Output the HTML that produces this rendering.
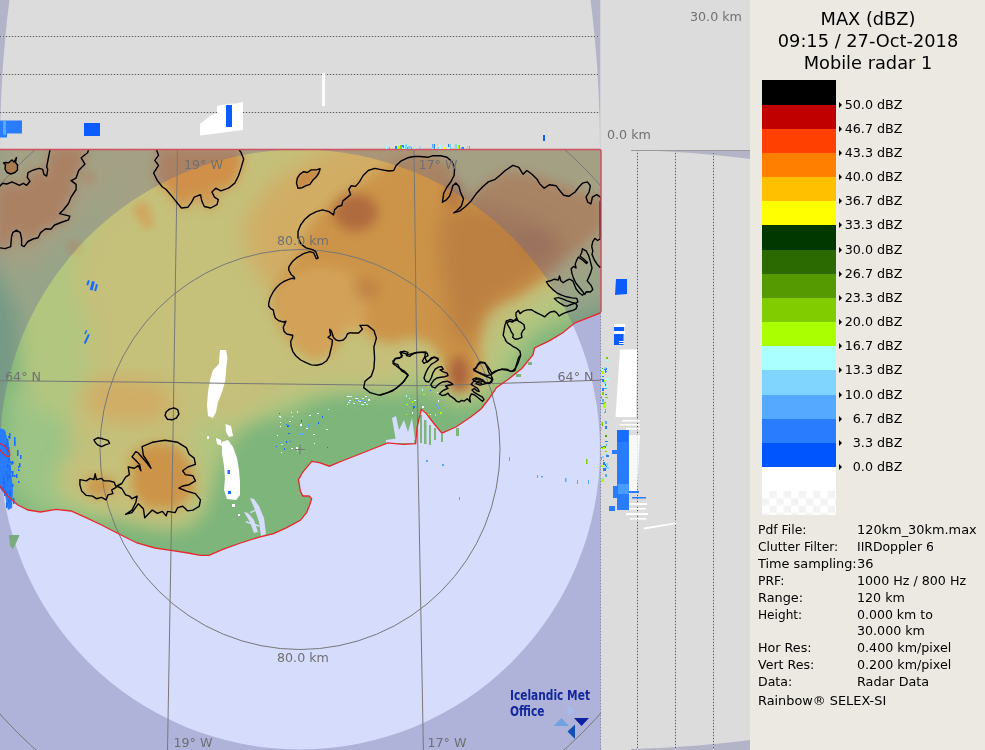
<!DOCTYPE html>
<html><head><meta charset="utf-8"><title>MAX (dBZ)</title>
<style>
html,body{margin:0;padding:0;background:#dcdcdc;}
body{width:985px;height:750px;overflow:hidden;position:relative;font-family:"DejaVu Sans","Liberation Sans",sans-serif;}
svg{position:absolute;left:0;top:0;display:block}
text{font-family:"DejaVu Sans","Liberation Sans",sans-serif}
.g{fill:#707070;font-size:13px}
.l{fill:#000;font-size:13px}
.t{fill:#000;font-size:17.8px;text-anchor:middle}
.i{fill:#000;font-size:13px}
</style></head><body>
<svg width="985" height="750" viewBox="0 0 985 750">
<defs>
<clipPath id="mapclip"><rect x="0" y="149.5" width="601" height="601"/></clipPath>
<clipPath id="landclip"><polygon points="-5,480 0,486 7.6,496 17.8,505 28,510 40.6,512 56,509.3 71,511 86,517.7 101.5,525 119,534 137,543 155,548 172.6,550.7 188,553 200.5,555.3 209,555.3 222.8,549.4 240.6,543 258.4,537.3 273.6,533.7 286.3,527.9 300.3,520.3 306.6,512.6 309.6,505 311.7,498.7 309,496 302.8,496 300.3,491 298.5,479.6 302.8,472 311.7,461.4 319.3,462.6 329.4,466.2 342,461 357.4,455 375,448 387.8,442.8 403,444.4 415.7,443.6 417,427.6 419,419 421.2,409.3 425.9,413 433.5,423 441.9,433.2 455.8,427 471,416.8 481,409 488.8,399 496.4,387.6 509,378.7 521.8,368.5 533,354.6 534.5,348 549.7,340.6 562.4,333 575,322.8 587.8,317.8 601,312.7 601,312.7 601,149.5 -5,149.5"/></clipPath>
<clipPath id="topclip"><rect x="0" y="0" width="600.3" height="149"/></clipPath>
<clipPath id="rclip"><rect x="631" y="150" width="119" height="600"/></clipPath>
<filter id="b12" x="-20%" y="-20%" width="140%" height="140%"><feGaussianBlur stdDeviation="10"/></filter>
<filter id="b6" x="-30%" y="-30%" width="160%" height="160%"><feGaussianBlur stdDeviation="6"/></filter>
<filter id="b2" x="-30%" y="-30%" width="160%" height="160%"><feGaussianBlur stdDeviation="1.5"/></filter>
<filter id="b4" x="-30%" y="-30%" width="160%" height="160%"><feGaussianBlur stdDeviation="4"/></filter>
<pattern id="chk" x="762" y="491" width="14.6" height="14.6" patternUnits="userSpaceOnUse"><rect width="14.6" height="14.6" fill="#fff"/><rect x="7.3" y="0" width="7.3" height="7.3" fill="#f3f3f3"/><rect x="0" y="7.3" width="7.3" height="7.3" fill="#f3f3f3"/></pattern>
</defs>

<rect x="0" y="0" width="985" height="750" fill="#dcdcdc"/>
<g clip-path="url(#topclip)"><path d="M-10,-10H611V160H-10Z M0,149.5A300,600 0 0 1 600,149.5Z" fill="#b4b4c8" fill-rule="evenodd"/></g>
<g clip-path="url(#rclip)"><path d="M620,140H760V760H620Z M600,149.5A600,300 0 0 1 600,749.5Z" fill="#b4b4c8" fill-rule="evenodd"/></g>
<line x1="0" y1="36.5" x2="600" y2="36.5" stroke="#c4c4c4" stroke-width="1"/><line x1="0" y1="36.5" x2="600" y2="36.5" stroke="#5a5a5a" stroke-width="1" stroke-dasharray="1,2"/>
<line x1="0" y1="74.5" x2="600" y2="74.5" stroke="#c4c4c4" stroke-width="1"/><line x1="0" y1="74.5" x2="600" y2="74.5" stroke="#5a5a5a" stroke-width="1" stroke-dasharray="1,2"/>
<line x1="0" y1="112.5" x2="600" y2="112.5" stroke="#c4c4c4" stroke-width="1"/><line x1="0" y1="112.5" x2="600" y2="112.5" stroke="#5a5a5a" stroke-width="1" stroke-dasharray="1,2"/>
<line x1="637.5" y1="150" x2="637.5" y2="750" stroke="#c4c4c4" stroke-width="1"/><line x1="637.5" y1="150" x2="637.5" y2="750" stroke="#5a5a5a" stroke-width="1" stroke-dasharray="1,2"/>
<line x1="675.5" y1="150" x2="675.5" y2="750" stroke="#c4c4c4" stroke-width="1"/><line x1="675.5" y1="150" x2="675.5" y2="750" stroke="#5a5a5a" stroke-width="1" stroke-dasharray="1,2"/>
<line x1="713.5" y1="150" x2="713.5" y2="750" stroke="#c4c4c4" stroke-width="1"/><line x1="713.5" y1="150" x2="713.5" y2="750" stroke="#5a5a5a" stroke-width="1" stroke-dasharray="1,2"/>
<line x1="631" y1="150.5" x2="750" y2="150.5" stroke="#999" stroke-width="1"/>
<g clip-path="url(#mapclip)">
<rect x="0" y="149" width="601" height="601" fill="#d6dcfb"/>
<g clip-path="url(#landclip)">
<rect x="0" y="149" width="601" height="420" fill="#7db57b"/>
<polygon points="6.1,386.9 103.7,386.9 103.7,515.1 36.6,515.1 6.1,478.5" fill="#9cc486" filter="url(#b12)"/>
<polygon points="0.0,136.8 610.1,136.8 610.1,304.6 573.5,316.8 549.1,325.9 530.8,338.1 518.6,356.4 509.5,374.7 497.3,390.0 482.0,399.2 463.7,405.3 448.4,402.2 436.2,390.0 421.0,386.9 402.7,393.1 384.4,393.1 366.1,390.0 347.8,393.1 329.5,393.1 311.2,399.2 292.9,411.4 274.6,417.5 256.3,420.5 244.1,426.6 233.1,438.8 224.5,457.1 214.8,478.5 207.4,502.9 196.5,521.2 176.9,527.3 152.5,521.2 128.1,515.1 103.7,512.0 79.3,505.9 61.0,496.8 51.9,481.5 64.1,466.3 82.4,454.1 91.5,438.8 79.3,423.6 54.9,417.5 30.5,405.3 21.4,380.8 18.3,350.3 18.3,319.8 12.2,301.5 0.0,286.3" fill="#b2c680" filter="url(#b12)"/>
<polygon points="122.0,136.8 610.1,136.8 610.1,258.8 573.5,280.2 543.0,298.5 518.6,313.7 497.3,332.0 488.1,356.4 485.1,377.8 475.9,391.8 460.6,396.1 445.4,386.9 436.2,371.7 421.0,362.5 402.7,374.7 384.4,383.9 366.1,383.9 347.8,383.9 329.5,383.9 305.1,390.0 280.7,393.1 262.4,405.3 244.1,417.5 225.7,423.6 207.4,417.5 189.1,411.4 170.8,423.6 146.4,429.7 122.0,426.6 97.6,417.5 85.4,399.2 91.5,374.7 85.4,350.3 91.5,325.9 79.3,301.5 73.2,271.0 91.5,228.3 122.0,185.6" fill="#c5c07a" filter="url(#b12)"/>
<polygon points="61.0,472.4 73.2,448.0 97.6,432.7 122.0,426.6 152.5,423.6 176.9,430.9 196.5,454.1 201.3,484.6 196.5,509.0 180.0,524.2 152.5,526.1 122.0,518.1 91.5,509.0 67.1,496.8" fill="#c5c07a" filter="url(#b12)"/>
<polygon points="-6.1,142.9 158.6,142.9 122.0,185.6 73.2,228.3 36.6,264.9 -6.1,271.0" fill="#c5c07a" filter="url(#b12)"/>
<polygon points="76.3,393.1 201.3,393.1 196.5,438.8 67.1,444.9" fill="#c5c07a" filter="url(#b12)"/>
<polygon points="85.4,383.9 122.0,377.8 158.6,383.9 176.9,399.2 164.7,417.5 134.2,423.6 103.7,420.5 85.4,405.3" fill="#d4a860" filter="url(#b12)" opacity="0.8"/>
<polygon points="244.1,222.2 268.5,185.6 305.1,161.2 341.7,142.9 427.1,142.9 427.1,173.4 378.3,185.6 341.7,216.1 317.3,246.6 292.9,283.2 268.5,289.3 250.2,258.8" fill="#d4a860" filter="url(#b12)" opacity="0.8"/>
<polygon points="271.5,301.5 277.6,280.2 292.9,264.9 302.0,240.5 317.3,216.1 335.6,200.9 356.9,185.6 378.3,170.4 402.7,158.2 427.1,155.1 451.5,164.3 457.6,191.7 463.7,203.9 482.0,185.6 506.4,170.4 530.8,173.4 555.2,182.6 579.6,191.7 604.0,200.9 604.0,225.3 585.7,243.6 564.4,258.8 543.0,278.3 518.6,295.4 494.2,304.6 482.0,319.8 479.0,344.2 482.0,362.5 479.0,383.9 469.8,390.0 454.5,386.9 445.4,371.7 439.3,353.4 427.1,341.2 408.8,338.1 390.5,344.2 372.2,338.1 360.0,325.9 344.7,329.0 332.5,350.3 314.2,359.5 295.9,347.3 280.7,325.9" fill="#cc9448" filter="url(#b6)"/>
<polygon points="131.2,454.1 152.5,441.9 176.9,444.9 192.2,466.3 195.2,490.7 176.9,509.0 146.4,509.0 131.2,490.7" fill="#cc9448" filter="url(#b6)"/>
<polygon points="82.4,481.5 100.7,475.4 115.9,481.5 112.9,493.7 91.5,496.8" fill="#cc9448" filter="url(#b6)"/>
<polygon points="88.8,147.6 88.8,148.9 87.6,152.7 81.2,157.8 85.0,164.1 78.7,170.5 76.1,178.1 71.1,180.6 76.1,184.4 76.1,189.5 71.1,197.1 68.5,203.5 63.5,209.8 59.6,213.6 69.8,216.1 68.5,219.9 60.9,222.5 54.6,225.0 50.8,229.3 45.7,228.8 40.6,232.6 38.1,237.7 33.0,239.0 27.9,241.5 24.1,246.6 21.6,245.3 21.6,239.0 20.3,232.6 16.5,230.1 12.7,232.6 11.4,237.7 10.7,246.6 5.1,248.6 0.0,247.9 -5.1,247.9 -5,186 0,186 2.7,183.3 6.7,184 12,182 15.3,183.3 19.3,185.3 23.3,183.3 26.7,185.3 30,181.3 27.3,177.3 28,172.7 33.3,170 39.3,168.3 42.7,169.3 44,174.7 46.7,176 47.7,169.3 46.7,166.7 48,160 49.3,153.3 50,150 50,147" fill="#d0904a" filter="url(#b6)"/>
<polygon points="156.1,147.6 156.1,148.9 158.6,155.2 154.8,160.3 158.6,165.4 153.6,173.0 157.4,180.6 162.4,187.0 166.2,189.5 172.6,197.1 177.7,203.5 181.5,208.0 187.8,207.3 191.6,202.2 194.2,197.1 200.5,194.6 201.8,200.9 204.3,206.5 210.7,208.0 217.0,204.7 218.3,199.6 214.5,197.1 211.9,192.0 215.7,188.2 220.8,190.8 228.4,188.2 234.8,183.1 238.6,175.5 241.1,167.9 243.7,159.0 241.1,152.7 238.6,148.9 238.6,147.6" fill="#d0904a" filter="url(#b6)"/>
<polygon points="297.3,178.1 299.8,174.3 303.6,171.7 307.4,172.5 311.2,169.9 316.3,169.9 320.1,168.7 318.8,173.0 316.3,176.8 312.5,180.6 309.9,184.4 306.1,185.7 302.3,187.7 298.0,188.2 296.5,183.1" fill="#c88c48" filter="url(#b2)"/>
<circle cx="88.8" cy="178" r="6" fill="#d8964e" filter="url(#b4)" opacity="0.7"/>
<circle cx="73.6" cy="246.6" r="6" fill="#d8964e" filter="url(#b4)" opacity="0.7"/>
<circle cx="142" cy="211" r="8" fill="#d8964e" filter="url(#b4)" opacity="0.7"/>
<circle cx="147" cy="222" r="6" fill="#d8964e" filter="url(#b4)" opacity="0.7"/>
<polygon points="274.6,301.5 286.8,277.1 317.3,264.9 347.8,271.0 366.1,295.4 366.1,332.0 341.7,332.0 329.5,353.4 308.1,356.4 289.8,338.1" fill="#dcb46c" filter="url(#b6)" opacity="0.45"/>
<polygon points="439.3,216.1 463.7,203.9 500.3,210.0 536.9,222.2 561.3,240.5 561.3,258.8 536.9,277.1 512.5,292.4 488.1,307.6 475.9,332.0 463.7,350.3 451.5,332.0 445.4,295.4 439.3,258.8" fill="#b87c40" filter="url(#b12)" opacity="0.8"/>
<ellipse cx="355.7" cy="212.5" rx="22.0" ry="18.3" fill="#a8603a" filter="url(#b6)" opacity="0.8"/>
<ellipse cx="458.8" cy="374.1" rx="9.2" ry="18.3" fill="#a8603a" filter="url(#b6)" opacity="1.0"/>
<ellipse cx="454.5" cy="194.8" rx="11.0" ry="13.4" fill="#a8603a" filter="url(#b6)" opacity="0.5"/>
<ellipse cx="366.1" cy="289.3" rx="13.4" ry="11.0" fill="#a8603a" filter="url(#b6)" opacity="0.3"/>
<ellipse cx="535.7" cy="243.0" rx="18.3" ry="12.2" fill="#a8603a" filter="url(#b6)" opacity="0.2"/>
</g>
<path d="M-10,140H611V760H-10Z M0,449.5A300,300 0 1 0 600,449.5A300,300 0 1 0 0,449.5Z" fill="#646498" fill-opacity="0.34" fill-rule="evenodd"/>
<g fill="#fff">
<polygon points="220,350 226,350 227.5,358 226.5,366 226,372 225,382 222,392 218,402 216,412 213,418 208,416 207,405 208,392 210,380 213,370 219,364 219.5,356"/>
<polygon points="225.5,424 231,426 233,436 229,437 226,432"/><polygon points="216,438 221,440 222,446 217,444"/>
<polygon points="222,442 228,440 233,447 237,458 239,470 240,482 240,495 236,500 227,499 224,490 225,478 224,466 222,454"/>
<rect x="232" y="504" width="3" height="3"/><rect x="238" y="514" width="2" height="2"/><rect x="207" y="436" width="2" height="3"/>
</g>
<polygon points="0,428 5,430 9,445 11,470 13,490 12,508 8,510 5,495 0,488" fill="#2a7cff"/>
<g fill="#1a6cff"><rect x="6" y="471" width="1.5" height="4"/><rect x="18" y="466" width="1.5" height="2"/><rect x="13" y="498" width="1.5" height="6"/><rect x="7" y="448" width="1.5" height="6"/><rect x="12" y="471" width="1.5" height="6"/><rect x="14" y="441" width="1.5" height="3"/><rect x="18" y="469" width="1.5" height="2"/><rect x="16" y="474" width="1.5" height="4"/><rect x="7" y="475" width="1.5" height="6"/><rect x="9" y="490" width="1.5" height="6"/><rect x="9" y="433" width="1.5" height="6"/><rect x="6" y="502" width="1.5" height="6"/><rect x="10" y="493" width="1.5" height="4"/><rect x="12" y="461" width="1.5" height="3"/><rect x="18" y="481" width="1.5" height="2"/><rect x="14" y="442" width="1.5" height="4"/><rect x="12" y="484" width="1.5" height="3"/><rect x="7" y="439" width="1.5" height="6"/><rect x="4" y="490" width="1.5" height="6"/><rect x="10" y="461" width="1.5" height="2"/><rect x="3" y="476" width="1.5" height="2"/><rect x="9" y="474" width="1.5" height="4"/><rect x="8" y="436" width="1.5" height="2"/><rect x="7" y="450" width="1.5" height="2"/><rect x="20" y="455" width="1.5" height="4"/><rect x="9" y="465" width="1.5" height="6"/><rect x="14" y="475" width="1.5" height="2"/><rect x="11" y="462" width="1.5" height="3"/><rect x="19" y="463" width="1.5" height="4"/><rect x="11" y="471" width="1.5" height="2"/><rect x="8" y="458" width="1.5" height="3"/><rect x="3" y="477" width="1.5" height="6"/><rect x="8" y="499" width="1.5" height="4"/><rect x="3" y="481" width="1.5" height="4"/><rect x="7" y="464" width="1.5" height="4"/><rect x="5" y="444" width="1.5" height="4"/><rect x="17" y="450" width="1.5" height="6"/><rect x="4" y="491" width="1.5" height="3"/><rect x="8" y="447" width="1.5" height="4"/><rect x="6" y="444" width="1.5" height="6"/><rect x="14" y="437" width="1.5" height="4"/><rect x="6" y="491" width="1.5" height="3"/><rect x="3" y="486" width="1.5" height="3"/></g>
<polygon points="9,535 19.5,535 17,541 13,549 10,546" fill="#78ab7e"/>
<ellipse cx="4" cy="450" rx="8" ry="3.2" transform="rotate(48 4 450)" fill="none" stroke="#e8282c" stroke-width="1.2"/>
<g fill="#d6dcfb"><polygon points="392,418 396,416 399,430 404,420 408,432 412,418 415,440 404,442 396,441"/><polygon points="386,440 400,438 414,440 414,443 386,443"/></g>
<g fill="#7db57b"><rect x="420" y="415" width="2" height="28"/><rect x="424" y="420" width="2.5" height="24"/><rect x="429" y="425" width="2" height="20"/><rect x="434" y="428" width="2" height="12"/><rect x="441" y="434" width="2" height="8"/><rect x="456" y="428" width="3" height="8"/><rect x="516" y="374" width="5" height="3"/><rect x="528" y="362" width="4" height="3"/></g>
<g fill="#1a6cff"><rect x="88" y="280" width="2" height="5" transform="rotate(20 88 280)"/><rect x="92" y="281" width="3" height="9" transform="rotate(15 92 281)"/><rect x="96" y="284" width="2" height="7" transform="rotate(15 96 284)"/><rect x="86" y="330" width="1.5" height="4" transform="rotate(25 86 330)"/><rect x="88" y="334" width="2" height="10" transform="rotate(25 88 334)"/><rect x="227.5" y="470" width="2.5" height="4"/><rect x="228" y="491" width="3" height="3"/></g>
<g fill="#d6dcfb"><polygon points="250,498 254,499 259,506 264,518 266,534 261,536 259,522 255,510"/><polygon points="244,512 248,513 254,520 258,532 254,533 250,522"/><rect x="246" y="521" width="14" height="1.5" transform="rotate(18 246 521)"/><rect x="250" y="512" width="8" height="1.5" transform="rotate(-25 250 512)"/></g>
<rect x="300" y="433" width="1" height="2" fill="#55aaff"/><rect x="322" y="416" width="1" height="2" fill="#1a6cff"/><rect x="309" y="416" width="1" height="1" fill="#55aaff"/><rect x="281" y="444" width="2" height="1" fill="#aaffff"/><rect x="308" y="425" width="2" height="2" fill="#55aaff"/><rect x="309" y="415" width="2" height="1" fill="#fff"/><rect x="279" y="416" width="2" height="1" fill="#fff"/><rect x="318" y="422" width="1" height="2" fill="#1a6cff"/><rect x="289" y="421" width="2" height="1" fill="#fff"/><rect x="301" y="420" width="1" height="2" fill="#1a6cff"/><rect x="290" y="441" width="1" height="1" fill="#1a6cff"/><rect x="280" y="442" width="1" height="1" fill="#55aaff"/><rect x="297" y="450" width="1" height="1" fill="#aaffff"/><rect x="287" y="448" width="1" height="2" fill="#55aaff"/><rect x="297" y="411" width="1" height="2" fill="#aaffff"/><rect x="291" y="412" width="1" height="1" fill="#fff"/><rect x="317" y="413" width="2" height="1" fill="#fff"/><rect x="277" y="428" width="1" height="2" fill="#55aaff"/><rect x="306" y="428" width="2" height="1" fill="#fff"/><rect x="299" y="425" width="1" height="1" fill="#55aaff"/><rect x="276" y="446" width="1" height="1" fill="#1a6cff"/><rect x="287" y="425" width="2" height="2" fill="#1a6cff"/><rect x="281" y="452" width="1" height="1" fill="#fff"/><rect x="277" y="435" width="1" height="1" fill="#fff"/><rect x="280" y="417" width="1" height="1" fill="#aaffff"/><rect x="308" y="424" width="1" height="2" fill="#55aaff"/><rect x="302" y="433" width="1" height="2" fill="#55aaff"/><rect x="284" y="448" width="1" height="2" fill="#1a6cff"/><rect x="286" y="441" width="1" height="2" fill="#1a6cff"/><rect x="327" y="447" width="1" height="1" fill="#1a6cff"/><rect x="279" y="413" width="1" height="1" fill="#1a6cff"/><rect x="316" y="425" width="2" height="1" fill="#55aaff"/><rect x="292" y="416" width="1" height="1" fill="#aaffff"/><rect x="288" y="433" width="2" height="1" fill="#1a6cff"/><rect x="291" y="448" width="2" height="1" fill="#fff"/><rect x="280" y="426" width="1" height="1" fill="#fff"/><rect x="286" y="424" width="1" height="1" fill="#1a6cff"/><rect x="296" y="447" width="2" height="2" fill="#fff"/><rect x="313" y="434" width="2" height="1" fill="#fff"/><rect x="326" y="429" width="2" height="1" fill="#fff"/><rect x="328" y="409" width="1" height="1" fill="#aaffff"/><rect x="280" y="422" width="1" height="1" fill="#fff"/><rect x="300" y="424" width="2" height="2" fill="#fff"/><rect x="314" y="443" width="1" height="1" fill="#fff"/><rect x="313" y="448" width="1" height="1" fill="#55aaff"/><rect x="359" y="401" width="2" height="1" fill="#aaffff"/><rect x="360" y="401" width="1" height="1" fill="#fff"/><rect x="361" y="404" width="3" height="1" fill="#aaffff"/><rect x="353" y="403" width="2" height="1" fill="#aaffff"/><rect x="357" y="400" width="2" height="1" fill="#fff"/><rect x="360" y="400" width="3" height="1" fill="#fff"/><rect x="348" y="402" width="2" height="1" fill="#aaffff"/><rect x="367" y="399" width="3" height="1" fill="#fff"/><rect x="360" y="400" width="3" height="1" fill="#55aaff"/><rect x="368" y="400" width="2" height="1" fill="#fff"/><rect x="355" y="398" width="1" height="1" fill="#aaffff"/><rect x="367" y="399" width="1" height="1" fill="#55aaff"/><rect x="348" y="400" width="3" height="1" fill="#fff"/><rect x="347" y="404" width="1" height="1" fill="#fff"/><rect x="356" y="398" width="2" height="1" fill="#fff"/><rect x="355" y="400" width="3" height="1" fill="#55aaff"/><rect x="366" y="404" width="2" height="1" fill="#aaffff"/><rect x="347" y="396" width="3" height="1" fill="#fff"/><rect x="363" y="401" width="3" height="1" fill="#55aaff"/><rect x="365" y="396" width="2" height="1" fill="#fff"/><rect x="356" y="396" width="1" height="1" fill="#55aaff"/><rect x="364" y="402" width="2" height="1" fill="#fff"/><rect x="348" y="400" width="1" height="1" fill="#55aaff"/><rect x="362" y="398" width="2" height="1" fill="#aaffff"/><rect x="349" y="396" width="3" height="1" fill="#aaffff"/><rect x="430" y="390" width="1" height="1" fill="#1a6cff"/><rect x="419" y="409" width="1" height="2" fill="#55aaff"/><rect x="438" y="407" width="1" height="2" fill="#55aaff"/><rect x="412" y="412" width="1" height="2" fill="#fff"/><rect x="421" y="405" width="1" height="1" fill="#55aaff"/><rect x="412" y="412" width="1" height="2" fill="#fff"/><rect x="414" y="407" width="1" height="1" fill="#fff"/><rect x="406" y="395" width="1" height="2" fill="#aaffff"/><rect x="437" y="392" width="1" height="1" fill="#fff"/><rect x="411" y="395" width="1" height="1" fill="#55aaff"/><rect x="440" y="412" width="2" height="2" fill="#aaff00"/><rect x="438" y="400" width="1" height="2" fill="#fff"/><rect x="423" y="394" width="2" height="1" fill="#aaff00"/><rect x="423" y="410" width="1" height="2" fill="#aaff00"/><rect x="428" y="414" width="1" height="2" fill="#aaff00"/><rect x="435" y="414" width="1" height="2" fill="#aaff00"/><rect x="412" y="401" width="1" height="2" fill="#aaff00"/><rect x="406" y="414" width="1" height="1" fill="#aaff00"/><rect x="422" y="406" width="2" height="2" fill="#fff"/><rect x="419" y="414" width="1" height="1" fill="#aaffff"/><rect x="422" y="389" width="1" height="2" fill="#aaffff"/><rect x="409" y="398" width="1" height="1" fill="#fff"/><rect x="430" y="414" width="1" height="1" fill="#fff"/><rect x="413" y="406" width="2" height="2" fill="#1a6cff"/><rect x="414" y="400" width="2" height="1" fill="#aaffff"/><rect x="435" y="404" width="2" height="2" fill="#55aaff"/><rect x="406" y="404" width="2" height="1" fill="#aaff00"/><rect x="424" y="411" width="2" height="1" fill="#aaff00"/><rect x="424" y="411" width="2" height="1" fill="#aaff00"/><rect x="413" y="407" width="1" height="2" fill="#1a6cff"/>
<g fill="#55aaff"><rect x="509" y="457" width="1" height="4"/><rect x="537" y="475" width="1" height="3"/><rect x="541" y="476" width="2" height="1.5"/><rect x="565" y="478" width="1.5" height="4"/><rect x="577" y="480" width="1" height="4"/><rect x="588" y="480" width="1" height="4"/><rect x="442" y="464" width="2" height="2"/><rect x="426" y="460" width="2" height="2"/><rect x="459" y="497" width="1" height="3"/></g><rect x="586" y="459" width="1.5" height="5" fill="#80cc00"/>
<g fill="none" stroke="#787878" stroke-width="1">
<circle cx="300" cy="449.5" r="200"/><circle cx="300" cy="449.5" r="400"/>
<path d="M177.5,149 Q173,450 167.5,750"/><path d="M414,149 Q417,450 423.4,750"/>
<path d="M0,380.7 L175,382.5 L230,383.4 L380,385.2 Q420,386.3 455,384.8 L601,380.2"/>
<path d="M295,449.5H305M300,444.5V454.5"/>
</g>
<g fill="none" stroke="#000" stroke-width="1.4" stroke-linejoin="round">
<polygon points="88.8,147.6 88.8,148.9 87.6,152.7 81.2,157.8 85.0,164.1 78.7,170.5 76.1,178.1 71.1,180.6 76.1,184.4 76.1,189.5 71.1,197.1 68.5,203.5 63.5,209.8 59.6,213.6 69.8,216.1 68.5,219.9 60.9,222.5 54.6,225.0 50.8,229.3 45.7,228.8 40.6,232.6 38.1,237.7 33.0,239.0 27.9,241.5 24.1,246.6 21.6,245.3 21.6,239.0 20.3,232.6 16.5,230.1 12.7,232.6 11.4,237.7 10.7,246.6 5.1,248.6 0.0,247.9 -5.1,247.9 -5,186 0,186 2.7,183.3 6.7,184 12,182 15.3,183.3 19.3,185.3 23.3,183.3 26.7,185.3 30,181.3 27.3,177.3 28,172.7 33.3,170 39.3,168.3 42.7,169.3 44,174.7 46.7,176 47.7,169.3 46.7,166.7 48,160 49.3,153.3 50,150 50,147"/>
<polygon points="156.1,147.6 156.1,148.9 158.6,155.2 154.8,160.3 158.6,165.4 153.6,173.0 157.4,180.6 162.4,187.0 166.2,189.5 172.6,197.1 177.7,203.5 181.5,208.0 187.8,207.3 191.6,202.2 194.2,197.1 200.5,194.6 201.8,200.9 204.3,206.5 210.7,208.0 217.0,204.7 218.3,199.6 214.5,197.1 211.9,192.0 215.7,188.2 220.8,190.8 228.4,188.2 234.8,183.1 238.6,175.5 241.1,167.9 243.7,159.0 241.1,152.7 238.6,148.9 238.6,147.6"/>
<polygon points="297.3,178.1 299.8,174.3 303.6,171.7 307.4,172.5 311.2,169.9 316.3,169.9 320.1,168.7 318.8,173.0 316.3,176.8 312.5,180.6 309.9,184.4 306.1,185.7 302.3,187.7 298.0,188.2 296.5,183.1"/>
<polyline points="350.0,332.7 347.3,334.0 346.0,337.3 343.3,340.0 339.3,340.9 336.0,340.0 333.3,337.3 332.4,334.0 331.3,330.7 329.7,329.3 330.0,332.0 330.7,335.3 328.0,337.3 330.0,338.7 332.4,340.0 332.0,344.7 330.7,350.0 329.3,356.0 326.7,360.7 322.0,364.0 316.7,365.3 311.3,364.9 306.0,362.7 300.7,360.0 296.0,356.0 292.7,351.3 291.1,346.0 290.7,341.3 292.4,338.0 292.7,335.3 290.0,334.7 286.7,334.0 284.0,331.3 283.3,327.3 284.7,324.0 286.0,321.3 283.3,322.0 278.7,320.7 275.3,318.0 274.0,314.0 273.3,310.0 270.7,308.7 268.7,306.0 268.7,303.3 270.0,298.0 272.7,292.7 276.0,288.0 280.0,284.0 284.0,281.3 288.7,279.3 292.0,278.3 294.7,278.7 294.0,276.7 291.3,274.7 288.7,270.0 288.9,266.9 292.2,261.8 297.3,257.3 303.6,253.7 309.9,251.7 313.8,252.9 316.3,258.8 318.1,258.0 315.8,251.7 312.5,249.6 306.1,247.9 301.1,244.1 298.0,237.7 298.0,231.4 300.6,225.0 304.9,219.2 309.9,214.9 316.3,211.6 322.6,209.8 329.0,211.6 333.6,214.9 334.6,209.8 337.9,206.5 341.7,205.5 342.9,200.9 346.8,197.9 350.6,194.6 348.8,189.5 351.3,185.7 355.6,186.4 359.4,181.9 363.2,175.5 368.3,170.5 374.7,168.4 382.3,169.9 388.6,171.0 393.7,170.5 396.2,165.4 401.3,160.8 407.7,157.8 414.0,156.5 420.3,156.5 427.9,157.3 433.0,155.7 440.6,155.7 447.0,157.3 452.0,161.6 454.6,167.9 454.1,175.5 450.8,181.9 447.0,187.0 443.7,193.3 442.4,202.2 445.7,200.4 449.5,196.3 451.5,190.8 452.8,185.7 455.8,183.1 458.9,186.2 460.4,192.0 463.5,198.9 461.4,206.0 457.1,210.6 453.8,212.8 459.6,211.1 465.5,206.5 471.1,200.9 476.1,193.8 482.5,187.0 488.3,181.9 495.2,179.3 500.3,175.0 505.3,170.5 512.9,165.4 518.8,167.4 523.1,174.3 526.9,170.5 532.0,174.3 537.1,179.3 539.6,183.7 544.2,188.2 549.7,184.7 556.1,185.7 559.9,190.8 563.7,195.3 568.8,196.3 575.1,192.0 578.9,187.0 582.7,183.1 587.3,181.9 590.4,185.7 589.1,192.0 586.0,197.1 587.8,202.2 590.9,204.0 592.4,197.1 596.7,194.6 600.5,197.1 601.3,200.9"/>
<polyline points="600.3,200.8 600.3,238.9 597.6,240.5 594.9,238.4 592.8,241.6 591.7,246.4 592.8,251.2 592.0,254.4 594.4,260.0 597.6,264.8 600.0,267.2 601.1,266.4 601.1,268.0"/>
<polygon points="582.4,248.8 586.4,251.2 588.8,256.0 590.4,261.6 592.0,268.0 590.4,273.6 587.2,280.8 591.2,285.6 592.8,289.6 590.4,292.0 586.4,291.7 584.8,294.4 582.4,291.2 579.2,287.2 576.0,283.2 573.6,278.4 572.0,273.6 571.2,268.8 573.6,266.4 576.0,268.0 575.2,264.0 576.8,260.0 578.4,257.1 582.4,260.0 586.4,263.5 587.5,262.4 584.0,259.2 580.0,256.0 581.6,252.8"/>
<polyline points="584.0,293.6 582.4,295.2 579.2,292.8 576.0,288.8 574.4,284.8 572.8,280.8 569.6,279.2 566.4,280.5 563.2,282.7 560.8,280.8 559.5,276.0 558.4,280.0 554.4,279.2 550.4,280.8 546.4,281.6 548.8,285.6 552.8,289.6 556.8,292.8 561.6,295.2 566.4,296.8 572.0,297.9 576.8,298.4 577.9,301.6 576.0,303.2 572.0,302.4 567.2,300.8 563.2,299.2 558.4,297.6 554.4,298.4 556.8,300.8 560.0,303.2 564.0,305.6 567.2,306.1 571.2,304.5 575.2,303.2 577.3,305.6 576.0,308.8 572.8,310.4 568.8,311.5 564.8,312.8 561.6,314.4 559.2,316.0 556.8,312.8 554.4,311.2 550.4,312.0 547.2,314.4 544.8,316.8 541.6,315.2 538.4,313.6 535.2,312.0 531.2,309.6 527.2,309.9 523.2,311.2 520.0,313.6 518.4,310.4 516.0,312.8 516.0,316.0 517.6,320.0 514.4,320.8 510.4,319.5 506.4,320.8 504.8,325.6 504.0,330.4 503.2,335.2 505.6,339.8 505.3,340.0 507.3,342.7 510.7,344.7 513.3,346.7 517.3,348.7 520.0,351.3 520.7,355.3 519.3,359.3 518.0,363.3 516.0,367.3 514.7,370.7 510.7,371.3 507.3,369.3 502.7,369.3 498.7,370.0 494.7,371.3 492.0,373.3 490.0,370.0 487.3,366.0 484.7,362.7 480.0,362.7 477.3,366.0 474.7,368.7 474.0,370.7 477.3,372.0 481.3,374.0 485.3,376.0 488.7,377.3 491.3,378.7 492.0,382.0 488.7,383.3 485.3,382.7 482.7,380.7 480.0,378.7 476.0,378.0 472.7,379.3 474.7,381.3 478.7,382.7 482.0,383.3"/>
<polygon points="516.0,318.7 518.7,321.3 521.3,322.7 524.0,324.7 524.7,328.7 522.7,330.7 521.3,334.0 522.0,337.3 518.7,338.7 515.3,339.3 512.7,337.3 513.3,334.7 511.3,332.0 510.0,328.7 508.0,325.3 506.7,322.7 509.3,321.3 512.7,322.0"/>
<polyline points="350.0,332.7 352.3,333.0 358.6,333.0 362.4,329.2 359.9,325.4 367.5,325.4 373.9,330.5 376.4,338.1 373.9,347.0 374.6,358.4 373.9,368.5 371.3,376.1 365.0,381.2 363.7,387.6 370.1,392.6 378.9,395.2 387.8,392.6 395.4,388.8 403.0,382.5 408.1,374.9 404.3,371.1 398.0,367.3 392.9,363.5 395.4,358.4 401.8,357.1 400.5,352.0 408.1,354.6 415.7,352.8 425.9,352.0 424.6,357.1 427.2,362.2 433.5,357.1 438.6,358.4"/>
<polyline points="380.0,395.3 386.4,393.2 392.8,390.8 399.2,386.0 404.0,381.2 408.0,375.6 405.6,373.2 401.6,370.8 399.2,367.6 397.6,364.4 394.4,363.6 392.8,361.2 395.2,358.8 400.0,358.0 402.4,355.6 400.0,352.4 404.0,351.1 408.0,352.4 406.4,355.6 409.6,356.4 412.8,354.0 416.8,352.4 422.4,352.4 427.2,353.2 428.0,355.6 424.0,358.0 422.4,361.2 424.0,363.3 428.0,361.2 431.2,358.0 435.2,357.2 438.4,359.6 435.2,362.0 431.2,364.4 428.0,368.4 425.6,373.2 424.0,378.0 425.6,381.2 428.8,382.0 431.2,378.0 432.8,373.2 435.2,369.2 438.4,367.1 441.6,366.5 443.2,369.2 440.0,370.0 443.2,371.9 447.2,373.2 448.0,375.6 444.8,376.7 440.8,377.2 436.8,378.0 433.6,380.4 430.9,384.4 432.0,386.8 435.2,387.9 438.4,384.4 442.4,382.0 447.2,381.2 450.4,382.5 452.8,384.4 448.8,385.2 445.6,386.0 448.0,388.4 444.0,390.0 441.6,391.6 439.5,394.0 442.4,395.6 445.6,394.8 448.0,393.2 449.6,395.6 452.0,397.2 454.4,398.8 456.5,401.2 459.2,402.0 461.6,400.4 464.0,401.2 467.2,398.8 470.4,402.0 469.6,398.0 471.2,394.0 474.4,394.8 478.4,398.0 482.4,401.2 484.0,399.6 482.4,397.2 478.4,394.8 474.4,392.4 472.0,390.0 474.4,388.4 476.8,390.8 479.2,391.6 477.6,388.4 473.6,386.0 471.2,384.4 473.6,381.2 477.6,378.8 482.4,379.6 485.6,382.8 482.4,381.2 478.4,380.9 476.0,383.6 480.0,385.2 485.6,383.6 489.6,382.8 492.8,379.6 491.2,375.6 488.8,372.4 487.2,367.6 484.8,362.8 480.0,362.0 477.6,364.4 476.0,368.4 473.6,369.2 476.8,371.6 482.4,374.0 487.2,375.6 492.0,374.0 496.8,370.8 501.6,369.2 506.4,370.0 512.0,371.6 515.2,368.4 516.8,363.6 518.4,358.0 520.0,355.6"/>
<polygon points="142.1,446.6 152.3,442.3 165.0,440.3 177.7,442.3 186.5,447.9 189.1,454.3 194.2,458.1 195.4,464.4 187.8,467.0 182.7,470.8 185.3,474.6 192.9,475.8 195.4,480.9 189.1,484.7 182.7,486.0 178.9,488.0 186.5,491.1 195.4,493.6 200.5,499.9 199.2,506.3 192.9,510.1 187.8,510.9 182.7,506.3 177.7,507.6 175.1,512.6 167.5,511.4 166.2,515.9 162.4,511.4 157.4,513.4 152.3,510.1 144.7,517.7 143.4,508.8 138.3,503.8 132.0,512.6 125.6,514.4 132.0,510.1 135.8,502.5 137.1,496.1 132.0,498.7 129.4,496.1 125.6,494.9 121.8,488.5 116.8,486.0 121.8,483.5 125.6,477.1 129.4,474.6 128.2,467.0 134.5,468.2 138.3,465.7 140.9,470.8 139.6,464.4 135.8,460.6 132.0,456.8 135.8,451.7 138.3,453.0 145.9,461.9 151.0,468.2 148.5,463.1 143.4,455.5"/>
<polygon points="79.9,479.6 86.3,480.9 90.1,478.4 93.9,479.6 95.2,473.8 96.4,479.6 101.5,478.4 104.1,480.9 109.1,480.9 114.2,482.2 116.2,487.3 111.7,489.8 112.9,493.6 107.9,494.9 106.1,499.9 101.5,497.4 96.4,498.7 92.6,496.1 86.3,495.4 81.7,491.1 79.9,484.7"/>
<polygon points="93.9,439.8 97.7,437.8 102.8,438.8 107.9,440.3 109.6,443.4 105.3,444.9 101.5,446.6 97.7,444.9 95.2,442.3"/>
<polygon points="166.2,411.7 169.5,409.1 173.9,407.9 177.7,409.6 178.9,414.2 176.4,418.0 172.1,419.8 167.5,419.3 165.0,415.5"/>
<path d="M5,162.5 L8.5,162.8 L12,160 L14,162 L16.5,157.5 L15.5,162.5 L17.5,165 L17.5,170 L15,172.5 L11,174 L7,172.5 L5,169 L5.5,165 L3.5,163Z" fill="#a87a50"/>
</g>
<polyline points="-5,480 0,486 7.6,496 17.8,505 28,510 40.6,512 56,509.3 71,511 86,517.7 101.5,525 119,534 137,543 155,548 172.6,550.7 188,553 200.5,555.3 209,555.3 222.8,549.4 240.6,543 258.4,537.3 273.6,533.7 286.3,527.9 300.3,520.3 306.6,512.6 309.6,505 311.7,498.7 309,496 302.8,496 300.3,491 298.5,479.6 302.8,472 311.7,461.4 319.3,462.6 329.4,466.2 342,461 357.4,455 375,448 387.8,442.8 403,444.4 415.7,443.6 417,427.6 419,419 421.2,409.3 425.9,413 433.5,423 441.9,433.2 455.8,427 471,416.8 481,409 488.8,399 496.4,387.6 509,378.7 521.8,368.5 533,354.6 534.5,348 549.7,340.6 562.4,333 575,322.8 587.8,317.8 601,312.7" fill="none" stroke="#e8282c" stroke-width="1.3"/>
<text class="g" x="277" y="245" textLength="51.9" lengthAdjust="spacingAndGlyphs">80.0 km</text><text class="g" x="277" y="662" textLength="51.9" lengthAdjust="spacingAndGlyphs">80.0 km</text>
<text class="g" x="184" y="169" textLength="39.0" lengthAdjust="spacingAndGlyphs">19° W</text><text class="g" x="418.5" y="169" textLength="39.0" lengthAdjust="spacingAndGlyphs">17° W</text>
<text class="g" x="173.5" y="746.5" textLength="39.0" lengthAdjust="spacingAndGlyphs">19° W</text><text class="g" x="427.5" y="746.5" textLength="39.0" lengthAdjust="spacingAndGlyphs">17° W</text>
<text class="g" x="5" y="381" textLength="36.0" lengthAdjust="spacingAndGlyphs">64° N</text><text class="g" x="557.5" y="381" textLength="36.0" lengthAdjust="spacingAndGlyphs">64° N</text>
<g fill="#14289c" font-weight="bold" style="font-family:'DejaVu Sans Condensed','DejaVu Sans',sans-serif"><text x="510" y="699.7" font-size="14.6" textLength="80" lengthAdjust="spacingAndGlyphs" style="font-family:'DejaVu Sans Condensed',sans-serif;font-weight:bold">Icelandic Met</text><text x="510" y="716" font-size="14.6" textLength="34.5" lengthAdjust="spacingAndGlyphs" style="font-family:'DejaVu Sans Condensed',sans-serif;font-weight:bold">Office</text></g>
<polygon points="567.5,704.5 574.5,711 567.5,717" fill="#a8bcec"/><polygon points="553.5,726 561.5,718 569,726" fill="#6fa2de"/><polygon points="574,718 589,718 581.5,726" fill="#1020a0"/><polygon points="575,724.5 575,739 567.5,731.5" fill="#1450b4"/>
</g>
<line x1="600.5" y1="313" x2="600.5" y2="750" stroke="#8a8a90" stroke-width="1" stroke-dasharray="1,2"/>
<path d="M0,149.5H599.5Q601,149.5 601,151V312" fill="none" stroke="#d05060" stroke-width="1.5"/>
<g fill="#0a5cff"><rect x="0" y="120.5" width="22" height="13" fill="#2a7cff"/><rect x="0" y="133" width="7" height="4.5" fill="#2a7cff"/><rect x="84" y="123" width="16" height="13"/><polygon points="616,279 627,279 627,294 615,295"/><rect x="614" y="334" width="9.5" height="11"/><rect x="614" y="327" width="10" height="4"/></g>
<rect x="3" y="121" width="3" height="14" fill="#55aaff"/>
<g fill="#fff"><polygon points="200,124 200,135.5 243,130 243,102 236,103.5 226,104 217,106 217,113 210,116"/><rect x="322" y="73" width="3" height="33"/><polygon points="620,349.5 637,349.5 636,417 615.5,417"/><rect x="614" y="324" width="11" height="3"/><rect x="614" y="331" width="11" height="3"/><rect x="619" y="341" width="5" height="1"/><rect x="619" y="343" width="5" height="1"/><rect x="622" y="420" width="18" height="1.5"/><rect x="620" y="424" width="20" height="1.5"/><rect x="626" y="428" width="14" height="1.5"/><polygon points="629,435 640,435 637,491 629,491" opacity="0.8"/><rect x="625" y="503" width="22" height="2"/><rect x="628" y="508" width="18" height="1.5"/><rect x="626" y="513" width="22" height="2"/><rect x="630" y="518" width="16" height="1.5"/><polygon points="644,527.5 676,522.5 676,524 644,529.5"/></g>
<rect x="226" y="105" width="6" height="22" fill="#0a5cff"/>
<g fill="#2a7cff"><rect x="617" y="430" width="12" height="80"/><rect x="612" y="450" width="5" height="4"/><rect x="613" y="486" width="16" height="12"/><rect x="609" y="506" width="6" height="5"/><rect x="629" y="491" width="10" height="2"/><rect x="632" y="497" width="14" height="1.5"/></g>
<rect x="617" y="430" width="11" height="12" fill="#1a6cff"/><rect x="618" y="484" width="11" height="10" fill="#55aaff" opacity="0.7"/>
<rect x="602" y="393" width="1" height="1" fill="#2a7cff"/><rect x="601" y="457" width="1" height="3" fill="#55aaff"/><rect x="601" y="379" width="3" height="1" fill="#2a7cff"/><rect x="605" y="383" width="1" height="3" fill="#2a7cff"/><rect x="602" y="368" width="1" height="3" fill="#559a00"/><rect x="601" y="427" width="1" height="3" fill="#aaff00"/><rect x="603" y="462" width="2" height="3" fill="#2a7cff"/><rect x="603" y="367" width="2" height="1" fill="#aaffff"/><rect x="606" y="426" width="2" height="1" fill="#aaff00"/><rect x="601" y="422" width="1" height="3" fill="#aaffff"/><rect x="606" y="378" width="3" height="2" fill="#aaffff"/><rect x="604" y="412" width="2" height="1" fill="#55aaff"/><rect x="606" y="454" width="2" height="1" fill="#80d5ff"/><rect x="605" y="426" width="2" height="3" fill="#2a7cff"/><rect x="605" y="409" width="1" height="3" fill="#80cc00"/><rect x="603" y="406" width="3" height="2" fill="#aaff00"/><rect x="606" y="357" width="2" height="2" fill="#80cc00"/><rect x="605" y="441" width="3" height="1" fill="#2a7cff"/><rect x="603" y="460" width="1" height="1" fill="#2a7cff"/><rect x="603" y="446" width="3" height="2" fill="#559a00"/><rect x="606" y="444" width="1" height="2" fill="#55aaff"/><rect x="605" y="397" width="3" height="1" fill="#80cc00"/><rect x="603" y="380" width="2" height="2" fill="#aaff00"/><rect x="604" y="402" width="2" height="2" fill="#80cc00"/><rect x="603" y="403" width="3" height="3" fill="#aaff00"/><rect x="604" y="388" width="3" height="1" fill="#55aaff"/><rect x="602" y="371" width="2" height="3" fill="#aaff00"/><rect x="604" y="382" width="2" height="2" fill="#80d5ff"/><rect x="602" y="388" width="2" height="3" fill="#2a7cff"/><rect x="602" y="424" width="1" height="2" fill="#559a00"/><rect x="606" y="467" width="3" height="2" fill="#80d5ff"/><rect x="601" y="403" width="3" height="1" fill="#2a7cff"/><rect x="602" y="376" width="2" height="1" fill="#2a7cff"/><rect x="601" y="396" width="1" height="3" fill="#80cc00"/><rect x="601" y="371" width="1" height="1" fill="#55aaff"/><rect x="605" y="464" width="2" height="3" fill="#2a7cff"/><rect x="603" y="384" width="2" height="2" fill="#aaffff"/><rect x="604" y="368" width="3" height="2" fill="#2a7cff"/><rect x="602" y="392" width="2" height="3" fill="#80cc00"/><rect x="606" y="386" width="1" height="1" fill="#aaff00"/><rect x="605" y="474" width="2" height="3" fill="#55aaff"/><rect x="601" y="422" width="2" height="3" fill="#80d5ff"/><rect x="606" y="463" width="2" height="3" fill="#80d5ff"/><rect x="602" y="399" width="2" height="3" fill="#55aaff"/><rect x="605" y="421" width="2" height="3" fill="#55aaff"/><rect x="602" y="456" width="2" height="2" fill="#80d5ff"/><rect x="602" y="447" width="3" height="2" fill="#aaff00"/><rect x="601" y="446" width="2" height="2" fill="#80d5ff"/><rect x="606" y="385" width="2" height="2" fill="#aaffff"/><rect x="606" y="455" width="2" height="1" fill="#55aaff"/><rect x="602" y="380" width="2" height="2" fill="#2a7cff"/><rect x="605" y="378" width="1" height="2" fill="#aaffff"/><rect x="603" y="468" width="1" height="3" fill="#80d5ff"/><rect x="604" y="367" width="2" height="2" fill="#80d5ff"/><rect x="604" y="466" width="2" height="1" fill="#80d5ff"/><rect x="606" y="455" width="3" height="2" fill="#2a7cff"/><rect x="601" y="447" width="2" height="1" fill="#559a00"/><rect x="601" y="479" width="3" height="3" fill="#aaff00"/><rect x="605" y="371" width="2" height="1" fill="#2a7cff"/><rect x="602" y="422" width="1" height="3" fill="#80cc00"/><rect x="605" y="435" width="2" height="2" fill="#559a00"/><rect x="602" y="478" width="2" height="1" fill="#80d5ff"/><rect x="603" y="384" width="2" height="3" fill="#aaffff"/><rect x="605" y="394" width="2" height="1" fill="#2a7cff"/><rect x="603" y="468" width="3" height="3" fill="#2a7cff"/><rect x="602" y="369" width="1" height="2" fill="#aaffff"/><rect x="605" y="451" width="2" height="1" fill="#80cc00"/><rect x="605" y="370" width="1" height="3" fill="#559a00"/><rect x="606" y="360" width="3" height="1" fill="#aaffff"/><rect x="601" y="465" width="2" height="2" fill="#aaff00"/>
<rect x="395" y="147" width="1" height="2" fill="#ffff00"/><rect x="443" y="148" width="1" height="1" fill="#aaffff"/><rect x="407" y="148" width="2" height="1" fill="#2a7cff"/><rect x="449" y="148" width="1" height="1" fill="#ffff00"/><rect x="398" y="147" width="1" height="2" fill="#0a5cff"/><rect x="419" y="146" width="1" height="3" fill="#80d5ff"/><rect x="410" y="147" width="2" height="2" fill="#80cc00"/><rect x="448" y="144" width="2" height="5" fill="#aaff00"/><rect x="448" y="148" width="2" height="1" fill="#aaffff"/><rect x="396" y="146" width="1" height="3" fill="#80cc00"/><rect x="456" y="144" width="1" height="5" fill="#2a7cff"/><rect x="469" y="146" width="1" height="3" fill="#55aaff"/><rect x="402" y="145" width="2" height="4" fill="#2a7cff"/><rect x="445" y="146" width="1" height="3" fill="#ffff00"/><rect x="432" y="147" width="1" height="2" fill="#0a5cff"/><rect x="419" y="147" width="2" height="2" fill="#80d5ff"/><rect x="458" y="147" width="1" height="2" fill="#ffff00"/><rect x="459" y="145" width="1" height="4" fill="#80cc00"/><rect x="441" y="148" width="1" height="1" fill="#aaffff"/><rect x="443" y="147" width="1" height="2" fill="#ffff00"/><rect x="437" y="147" width="2" height="2" fill="#aaff00"/><rect x="398" y="146" width="1" height="3" fill="#aaff00"/><rect x="432" y="144" width="2" height="5" fill="#55aaff"/><rect x="450" y="144" width="1" height="5" fill="#80d5ff"/><rect x="409" y="148" width="1" height="1" fill="#2a7cff"/><rect x="389" y="147" width="1" height="2" fill="#80cc00"/><rect x="404" y="148" width="1" height="1" fill="#aaff00"/><rect x="444" y="148" width="1" height="1" fill="#2a7cff"/><rect x="414" y="148" width="1" height="1" fill="#aaffff"/><rect x="433" y="148" width="1" height="1" fill="#aaffff"/><rect x="433" y="148" width="2" height="1" fill="#0a5cff"/><rect x="439" y="146" width="2" height="3" fill="#aaff00"/><rect x="467" y="146" width="1" height="3" fill="#80d5ff"/><rect x="433" y="146" width="2" height="3" fill="#55aaff"/><rect x="461" y="147" width="1" height="2" fill="#80cc00"/><rect x="444" y="147" width="2" height="2" fill="#ffff00"/><rect x="448" y="144" width="1" height="5" fill="#2a7cff"/><rect x="408" y="146" width="2" height="3" fill="#80d5ff"/><rect x="439" y="145" width="2" height="4" fill="#aaffff"/><rect x="402" y="148" width="1" height="1" fill="#80d5ff"/><rect x="432" y="148" width="2" height="1" fill="#aaffff"/><rect x="434" y="146" width="2" height="3" fill="#aaffff"/><rect x="438" y="147" width="1" height="2" fill="#80d5ff"/><rect x="462" y="147" width="2" height="2" fill="#2a7cff"/><rect x="458" y="145" width="1" height="4" fill="#aaff00"/><rect x="433" y="144" width="2" height="5" fill="#80d5ff"/><rect x="401" y="147" width="2" height="2" fill="#aaffff"/><rect x="445" y="144" width="1" height="5" fill="#aaffff"/><rect x="400" y="145" width="2" height="4" fill="#80cc00"/><rect x="405" y="144" width="2" height="5" fill="#80d5ff"/><rect x="410" y="148" width="1" height="1" fill="#0a5cff"/><rect x="403" y="148" width="1" height="1" fill="#aaffff"/><rect x="404" y="144" width="1" height="5" fill="#aaffff"/><rect x="447" y="147" width="2" height="2" fill="#aaffff"/><rect x="455" y="144" width="2" height="5" fill="#80d5ff"/><rect x="395" y="146" width="2" height="3" fill="#2a7cff"/><rect x="410" y="146" width="1" height="3" fill="#80d5ff"/><rect x="386" y="145" width="1" height="4" fill="#aaffff"/><rect x="407" y="147" width="1" height="2" fill="#55aaff"/><rect x="434" y="144" width="1" height="5" fill="#2a7cff"/>
<rect x="543" y="135" width="2" height="6" fill="#0a5cff"/>
<text class="g" x="690" y="21" textLength="51.9" lengthAdjust="spacingAndGlyphs">30.0 km</text><text class="g" x="607" y="139" textLength="43.9" lengthAdjust="spacingAndGlyphs">0.0 km</text>
<rect x="750" y="0" width="235" height="750" fill="#ece9e3"/>
<rect x="762" y="80" width="74" height="25" fill="#000000"/>
<rect x="762" y="105" width="74" height="24" fill="#c00000"/>
<rect x="762" y="129" width="74" height="24" fill="#ff4000"/>
<rect x="762" y="153" width="74" height="24" fill="#ff8000"/>
<rect x="762" y="177" width="74" height="24" fill="#ffc000"/>
<rect x="762" y="201" width="74" height="24" fill="#ffff00"/>
<rect x="762" y="225" width="74" height="25" fill="#003800"/>
<rect x="762" y="250" width="74" height="24" fill="#2a6a00"/>
<rect x="762" y="274" width="74" height="24" fill="#559a00"/>
<rect x="762" y="298" width="74" height="24" fill="#80cc00"/>
<rect x="762" y="322" width="74" height="24" fill="#aaff00"/>
<rect x="762" y="346" width="74" height="24" fill="#aaffff"/>
<rect x="762" y="370" width="74" height="25" fill="#80d5ff"/>
<rect x="762" y="395" width="74" height="24" fill="#55aaff"/>
<rect x="762" y="419" width="74" height="24" fill="#2a7cff"/>
<rect x="762" y="443" width="74" height="24" fill="#0055ff"/>
<rect x="762" y="467" width="74" height="24" fill="#fff"/><rect x="762" y="491" width="74" height="24" fill="url(#chk)"/>
<polygon points="839,102 842,105 839,108" fill="#000"/>
<text class="l" x="902.5" y="108.8" text-anchor="end" textLength="57.8" lengthAdjust="spacingAndGlyphs">50.0 dBZ</text>
<polygon points="839,126 842,129 839,132" fill="#000"/>
<text class="l" x="902.5" y="132.8" text-anchor="end" textLength="57.8" lengthAdjust="spacingAndGlyphs">46.7 dBZ</text>
<polygon points="839,150 842,153 839,156" fill="#000"/>
<text class="l" x="902.5" y="156.8" text-anchor="end" textLength="57.8" lengthAdjust="spacingAndGlyphs">43.3 dBZ</text>
<polygon points="839,174 842,177 839,180" fill="#000"/>
<text class="l" x="902.5" y="180.8" text-anchor="end" textLength="57.8" lengthAdjust="spacingAndGlyphs">40.0 dBZ</text>
<polygon points="839,198 842,201 839,204" fill="#000"/>
<text class="l" x="902.5" y="204.8" text-anchor="end" textLength="57.8" lengthAdjust="spacingAndGlyphs">36.7 dBZ</text>
<polygon points="839,222 842,225 839,228" fill="#000"/>
<text class="l" x="902.5" y="228.8" text-anchor="end" textLength="57.8" lengthAdjust="spacingAndGlyphs">33.3 dBZ</text>
<polygon points="839,247 842,250 839,253" fill="#000"/>
<text class="l" x="902.5" y="253.8" text-anchor="end" textLength="57.8" lengthAdjust="spacingAndGlyphs">30.0 dBZ</text>
<polygon points="839,271 842,274 839,277" fill="#000"/>
<text class="l" x="902.5" y="277.8" text-anchor="end" textLength="57.8" lengthAdjust="spacingAndGlyphs">26.7 dBZ</text>
<polygon points="839,295 842,298 839,301" fill="#000"/>
<text class="l" x="902.5" y="301.8" text-anchor="end" textLength="57.8" lengthAdjust="spacingAndGlyphs">23.3 dBZ</text>
<polygon points="839,319 842,322 839,325" fill="#000"/>
<text class="l" x="902.5" y="325.8" text-anchor="end" textLength="57.8" lengthAdjust="spacingAndGlyphs">20.0 dBZ</text>
<polygon points="839,343 842,346 839,349" fill="#000"/>
<text class="l" x="902.5" y="349.8" text-anchor="end" textLength="57.8" lengthAdjust="spacingAndGlyphs">16.7 dBZ</text>
<polygon points="839,367 842,370 839,373" fill="#000"/>
<text class="l" x="902.5" y="373.8" text-anchor="end" textLength="57.8" lengthAdjust="spacingAndGlyphs">13.3 dBZ</text>
<polygon points="839,392 842,395 839,398" fill="#000"/>
<text class="l" x="902.5" y="398.8" text-anchor="end" textLength="57.8" lengthAdjust="spacingAndGlyphs">10.0 dBZ</text>
<polygon points="839,416 842,419 839,422" fill="#000"/>
<text class="l" x="902.5" y="422.8" text-anchor="end" textLength="49.7" lengthAdjust="spacingAndGlyphs">6.7 dBZ</text>
<polygon points="839,440 842,443 839,446" fill="#000"/>
<text class="l" x="902.5" y="446.8" text-anchor="end" textLength="49.7" lengthAdjust="spacingAndGlyphs">3.3 dBZ</text>
<polygon points="839,464 842,467 839,470" fill="#000"/>
<text class="l" x="902.5" y="470.8" text-anchor="end" textLength="49.7" lengthAdjust="spacingAndGlyphs">0.0 dBZ</text>
<text class="t" x="868" y="25">MAX (dBZ)</text><text class="t" x="868" y="47">09:15 / 27-Oct-2018</text><text class="t" x="868" y="69">Mobile radar 1</text>
<text class="i" x="758" y="534" textLength="48.5" lengthAdjust="spacingAndGlyphs">Pdf File:</text>
<text class="i" x="857" y="534" textLength="119.7" lengthAdjust="spacingAndGlyphs">120km_30km.max</text>
<text class="i" x="758" y="551" textLength="80.2" lengthAdjust="spacingAndGlyphs">Clutter Filter:</text>
<text class="i" x="857" y="551" textLength="76.9" lengthAdjust="spacingAndGlyphs">IIRDoppler 6</text>
<text class="i" x="758" y="568" textLength="98.7" lengthAdjust="spacingAndGlyphs">Time sampling:</text>
<text class="i" x="857" y="568" textLength="16.5" lengthAdjust="spacingAndGlyphs">36</text>
<text class="i" x="758" y="585" textLength="26.3" lengthAdjust="spacingAndGlyphs">PRF:</text>
<text class="i" x="857" y="585" textLength="109.1" lengthAdjust="spacingAndGlyphs">1000 Hz / 800 Hz</text>
<text class="i" x="758" y="602" textLength="45.1" lengthAdjust="spacingAndGlyphs">Range:</text>
<text class="i" x="857" y="602" textLength="47.9" lengthAdjust="spacingAndGlyphs">120 km</text>
<text class="i" x="758" y="619" textLength="44.2" lengthAdjust="spacingAndGlyphs">Height:</text>
<text class="i" x="857" y="619" textLength="75.9" lengthAdjust="spacingAndGlyphs">0.000 km to</text>
<text class="i" x="857" y="635" textLength="67.9" lengthAdjust="spacingAndGlyphs">30.000 km</text>
<text class="i" x="758" y="652" textLength="53.6" lengthAdjust="spacingAndGlyphs">Hor Res:</text>
<text class="i" x="857" y="652" textLength="94.3" lengthAdjust="spacingAndGlyphs">0.400 km/pixel</text>
<text class="i" x="758" y="669" textLength="56.3" lengthAdjust="spacingAndGlyphs">Vert Res:</text>
<text class="i" x="857" y="669" textLength="94.3" lengthAdjust="spacingAndGlyphs">0.200 km/pixel</text>
<text class="i" x="758" y="686" textLength="34.2" lengthAdjust="spacingAndGlyphs">Data:</text>
<text class="i" x="857" y="686" textLength="72.2" lengthAdjust="spacingAndGlyphs">Radar Data</text>
<text class="i" x="758" y="705" textLength="128.2" lengthAdjust="spacingAndGlyphs">Rainbow® SELEX-SI</text>
</svg></body></html>
